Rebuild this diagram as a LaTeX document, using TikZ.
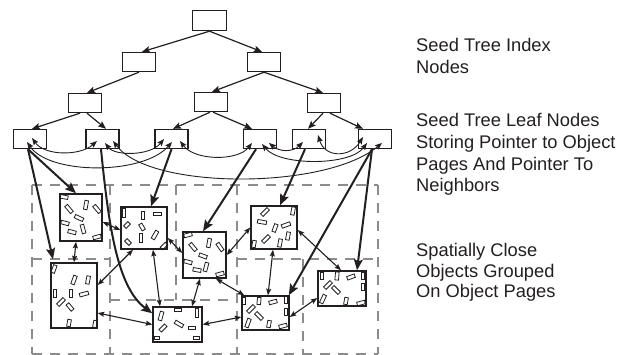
\documentclass[tikz,border=0pt]{standalone}
\usepackage{fontspec}
\setmainfont{Liberation Sans}
\usetikzlibrary{arrows.meta,calc}
\definecolor{ink}{HTML}{231F20}
\definecolor{dashc}{HTML}{8C8C8C}
\begin{document}
\begin{tikzpicture}[x=1pt,y=-1pt,
  tbox/.style={draw=ink, line width=1.4pt, minimum width=33pt, minimum height=19pt, inner sep=0pt},
  page/.style={draw=ink, fill=white, line width=1.5pt, inner sep=0pt},
  tarr/.style={draw=ink, line width=1.2pt, -{Stealth[length=8pt,width=6.5pt,inset=1.5pt]}},
  parr/.style={draw=ink, line width=2pt, -{Stealth[length=11pt,width=9pt,inset=2pt]}},
  darr/.style={draw=ink, line width=1.1pt, {Stealth[length=6.5pt,width=5pt,inset=1pt]}-{Stealth[length=6.5pt,width=5pt,inset=1pt]}},
  nbr/.style={draw=ink, line width=0.9pt, {Stealth[length=7pt,width=5.5pt,inset=1pt]}-{Stealth[length=7pt,width=5.5pt,inset=1pt]}},
  gridl/.style={draw=dashc, line width=1.8pt, dash pattern=on 10pt off 8pt},
  objl/.style={draw=ink, line width=0.8pt},
  lbl/.style={anchor=base west, inner sep=0pt, font=\fontsize{18.3}{22}\selectfont, text=ink}]
\useasboundingbox (0,0) rectangle (629,354);

% dashed grid of page regions
\draw[gridl] (32,185) -- (378,185);
\draw[gridl] (32,185) -- (32,354);
\draw[gridl] (378,185) -- (378,354);
\draw[gridl] (110,185) -- (110,354);
\draw[gridl] (237,185) -- (237,354);
\draw[gridl] (176,185) -- (176,300);
\draw[gridl] (303,259) -- (303,354);
\draw[gridl] (32,259) -- (110,259);
\draw[gridl] (237,259) -- (378,259);
\draw[gridl] (110,300) -- (237,300);
\draw[gridl] (32,354) -- (378,354);

% seed tree
\node[tbox, minimum width=34pt, minimum height=20pt] (r) at (209.5,20.5) {};
\node[tbox] (a1) at (139,62) {};
\node[tbox] (a2) at (264,62) {};
\node[tbox] (b1) at (85,103) {};
\node[tbox] (b2) at (211,102) {};
\node[tbox] (b3) at (324,103) {};
\node[tbox] (l1) at (30,139) {};
\node[tbox] (l2) at (102.5,139) {};
\node[tbox] (l3) at (171.5,139) {};
\node[tbox] (l4) at (260,139) {};
\node[tbox] (l5) at (309,139) {};
\node[tbox] (l6) at (375,139) {};

\draw[tarr] (r.south) -- ([xshift=3pt]a1.north);
\draw[tarr] (r.south) -- ([xshift=-2pt]a2.north);
\draw[tarr] (a1.south) -- ([xshift=2pt]b1.north);
\draw[tarr] (a2.south) -- ([xshift=1pt]b2.north);
\draw[tarr] (a2.south) -- ([xshift=-1pt]b3.north);
\draw[tarr] ([xshift=-5pt]b1.south) -- ([xshift=2pt]l1.north);
\draw[tarr] ([xshift=2pt]b1.south) -- ([xshift=3.5pt]l2.north);
\draw[tarr] ([xshift=-1pt]b2.south) -- ([xshift=1.5pt]l3.north);
\draw[tarr] ([xshift=2pt]b2.south) -- ([xshift=-8pt]l4.north);
\draw[tarr] ([xshift=-1pt]b3.south) -- ([xshift=-1pt]l5.north);
\draw[tarr] ([xshift=6pt]b3.south) -- ([xshift=-12pt]l6.north);

% neighbour pointers between leaves
\draw[nbr] ($(l1)+(2,-1)$) .. controls (45,156) and (80,156) .. ($(l2)+(-5.5,2)$);
\draw[nbr] ($(l1)+(-3,3)$) .. controls (50,175) and (143,175) .. ($(l3)+(0.5,3)$);
\draw[nbr] ($(l2)+(2.5,4)$) .. controls (115,156) and (150,156) .. ($(l3)+(-7.5,0)$);
\draw[nbr] ($(l2)+(10.5,2)$) .. controls (150,190) and (325,190) .. ($(l6)+(7,4)$);
\draw[nbr] ($(l3)+(8.5,2)$) .. controls (195,161) and (238,161) .. ($(l4)+(-8,4)$);
\draw[nbr] ($(l4)+(2,5)$) .. controls (280,166) and (350,166) .. ($(l6)+(-8,4)$);
\draw[nbr] ($(l4)+(9,4)$) .. controls (280,152) and (293,152) .. ($(l5)+(-6,3)$);
\draw[nbr] ($(l5)+(9,-4)$) .. controls (325,158) and (350,158) .. ($(l6)+(-12,-2)$);

% object pages
\node[page, minimum width=42pt, minimum height=47pt] (p1) at (81,217.5) {};
\node[page, minimum width=46pt, minimum height=42pt] (p2) at (144,228) {};
\node[page, minimum width=43pt, minimum height=46pt] (p3) at (204.5,255) {};
\node[page, minimum width=46pt, minimum height=43pt] (p4) at (274,227.5) {};
\node[page, minimum width=46pt, minimum height=65pt] (p5) at (74,295.5) {};
\node[page, minimum width=49pt, minimum height=35pt] (p6) at (177.5,324.5) {};
\node[page, minimum width=47pt, minimum height=34pt] (p7) at (265.5,313) {};
\node[page, minimum width=48pt, minimum height=35pt] (p8) at (342,288.5) {};

% objects inside the pages
\foreach \x/\y/\a/\l in {
  64/197/-10/8, 86/205/80/9, 69/209/-50/9, 97/209/-50/9, 79/218/-25/9, 65/223/-15/8, 83/229/-75/9, 72/232/-15/8, 97/237/15/8,
  124/213/90/9, 143/215/90/8, 157/214/0/8, 127/225/45/6, 142/227/-60/7, 141/238/90/9, 155/235/60/9, 128/242/-45/6, 164/246/45/7,
  188/235/15/8, 209/243/80/9, 193/247/-50/9, 220/247/-55/9, 203/256/-20/8, 188/262/-15/8, 206/267/75/9, 197/270/-10/8, 220/274/15/8,
  265/212/45/9, 293/211/80/8, 262/222/-10/9, 275/228/70/8, 286/225/20/9, 288/236/80/8, 266/239/45/9, 280/243/80/8, 254/244/80/7,
  54/269/70/8, 74/280/70/9, 88/280/80/8, 55/293/90/8, 71/293/90/8, 84/294/15/9, 61/302/45/9, 70/307/-50/8, 69/323/80/7, 95/324/80/7,
  161/316/75/9, 178/310/0/7, 197/313/90/9, 179/324/-30/9, 192/328/0/7, 163/328/45/8, 157/338/0/5, 196/338/0/6,
  244/301/90/7, 259/301/85/7, 273/302/15/8, 286/300/90/7, 251/309/45/9, 259/316/-45/9, 286/312/90/7, 248/323/70/9, 269/324/80/7, 283/326/15/8,
  322/276/90/7, 337/276/85/8, 351/277/20/8, 363/276/90/7, 328/285/45/9, 336/290/-45/9, 363/287/90/7, 323/299/65/9, 346/301/80/7, 361/303/15/8}
  \draw[objl, shift={(\x,\y)}, rotate=\a] (-\l/2,-1.8) rectangle (\l/2,1.8);

% pointers from leaves to object pages
\draw[parr] ([xshift=-2pt]l1.south) -- ([xshift=-5pt]p1.north);
\draw[parr] ([xshift=-2pt]l1.south) -- ([xshift=-21pt,yshift=3pt]p5.north);
\draw[parr] ([xshift=-1.5pt]l2.south) .. controls (109,230) and (118,288) .. ([yshift=-7pt]p6.north west);
\draw[parr] (l3.south) -- ([xshift=7pt]p2.north);
\draw[parr] ([xshift=-4pt]l4.south) -- ([xshift=-1.5pt]p3.north);
\draw[parr] ([xshift=-4pt]l5.south) -- ([xshift=6pt]p4.north);
\draw[parr] ([xshift=-3pt]l6.south) -- ([xshift=-1pt]p7.north east);
\draw[parr] ([xshift=-3pt]l6.south) -- ([xshift=15pt]p8.north);

% neighbour pointers between pages
\draw[darr] ([yshift=-4.5pt]p1.east) -- ([yshift=-2pt]p2.west);
\draw[darr] ([xshift=-5pt]p1.south) -- ([xshift=0pt]p5.north);
\draw[darr] ([xshift=-11pt]p2.south) -- ([yshift=10.5pt]p5.east);
\draw[darr] ([xshift=9pt]p2.south) -- ([xshift=-17.5pt]p6.north);
\draw[darr] ([yshift=-10pt]p2.east) -- ([yshift=2pt]p3.west);
\draw[darr] (p3.east) -- (p4.west);
\draw[darr] ([xshift=-4.5pt]p3.south) -- ([xshift=14.5pt]p6.north);
\draw[darr] ([xshift=11.5pt]p3.south) -- ([xshift=3pt]p7.north west);
\draw[darr] ([xshift=-1pt]p4.south) -- ([xshift=2.5pt]p7.north);
\draw[darr] ([yshift=-2.5pt]p4.east) -- ([xshift=-1pt]p8.north);
\draw[darr] ([yshift=-17.5pt]p5.east) -- (p6.west);
\draw[darr] (p6.east) -- ([yshift=-4pt]p7.west);
\draw[darr] ([yshift=-4pt]p7.east) -- ([yshift=-9.5pt]p8.west);

% labels
\node[lbl] (t1a) at (416,51.7) {Seed Tree Index};
\node[lbl] (t1b) at (416,73.3) {Nodes};
\node[lbl] (t2a) at (416,126.7) {Seed Tree Leaf Nodes};
\node[lbl] (t2b) at (416,148.3) {Storing Pointer to Object};
\node[lbl] (t2c) at (416,170) {Pages And Pointer To};
\node[lbl] (t2d) at (416,191.7) {Neighbors};
\node[lbl] (t3a) at (416,256.7) {Spatially Close};
\node[lbl] (t3b) at (416,277.3) {Objects Grouped};
\node[lbl] (t3c) at (416,297.7) {On Object Pages};
\end{tikzpicture}
\end{document}
